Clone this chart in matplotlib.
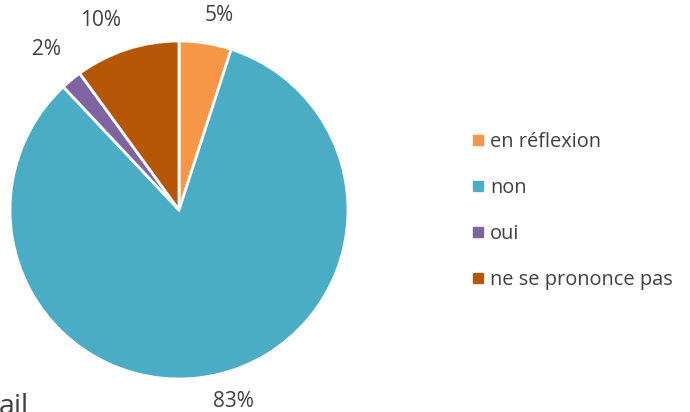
import matplotlib
matplotlib.use("Agg")
import matplotlib.pyplot as plt
from matplotlib.lines import Line2D
import numpy as np

categories = ["en réflexion", "non", "oui", "ne se prononce pas"]
values = [5, 83, 2, 10]
colors = ["#F79646", "#4BACC6", "#8064A2", "#B65708"]
# label placement (style): radial distance and angular nudge in degrees
label_dist = [1.175, 1.175, 1.23, 1.215]
label_nudge = [-2.6, 3.2, 0.0, 4.6]

plt.rcParams['font.family'] = ['Open Sans', 'DejaVu Sans']
W, H = 690, 412
fig = plt.figure(figsize=(W/100, H/100), dpi=100)

cx, cy, r = 179, 210, 169
ax = fig.add_axes([(cx - r)/W, (H - cy - r)/H, 2*r/W, 2*r/H])
wedges, _ = ax.pie(values, colors=colors, startangle=90, counterclock=False,
                   wedgeprops=dict(edgecolor="white", linewidth=2), radius=1)
ax.set_xlim(-1, 1)
ax.set_ylim(-1, 1)
ax.set_aspect("auto")
ax.axis("off")

for w, v, d, n in zip(wedges, values, label_dist, label_nudge):
    ang = np.deg2rad((w.theta1 + w.theta2) / 2 + n)
    ax.text(d*np.cos(ang), d*np.sin(ang), f"{v}%", ha="center", va="center",
            fontsize=15, color="#404040", clip_on=False)

handles = [Line2D([], [], marker="s", linestyle="none", markersize=6.5,
                  markerfacecolor=c, markeredgecolor=c) for c in colors]
leg = fig.legend(handles, categories, loc="center left",
                 bbox_to_anchor=(454/W, 1 - 211/H), frameon=False,
                 fontsize=14.4, labelspacing=1.3, handlelength=0.6,
                 handletextpad=0.3, labelcolor="#404040")

fig.text(-0.002, -2/H, "ail", fontsize=20.5, color="#404040", ha="left", va="baseline")

fig.savefig("out.png", dpi=100)
